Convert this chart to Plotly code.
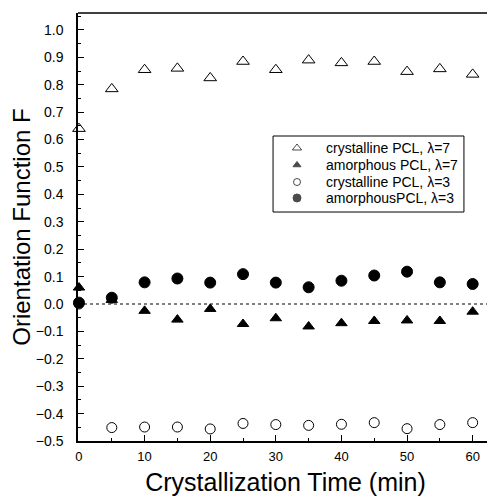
import plotly.graph_objects as go

# crystallization time (min)
time_min = [0, 5, 10, 15, 20, 25, 30, 35, 40, 45, 50, 55, 60]

# orientation function F
cryst_l7 = [0.64, 0.785, 0.855, 0.86, 0.825, 0.885, 0.855, 0.89, 0.88, 0.885, 0.848, 0.858, 0.838]
amorph_l7 = [0.06, 0.015, -0.025, -0.057, -0.018, -0.073, -0.052, -0.082, -0.07, -0.062, -0.06, -0.062, -0.028]
cryst_l3 = [0.0, -0.451, -0.449, -0.449, -0.456, -0.436, -0.44, -0.443, -0.439, -0.433, -0.455, -0.44, -0.433]
amorph_l3 = [0.005, 0.023, 0.079, 0.093, 0.078, 0.109, 0.078, 0.061, 0.085, 0.104, 0.118, 0.079, 0.073]

series_names = ["crystalline PCL, λ=7", "amorphous PCL, λ=7",
                "crystalline PCL, λ=3", "amorphousPCL, λ=3"]
series_symbols = ["triangle-up-open", "triangle-up", "circle-open", "circle"]

font_family = "Arial, Liberation Sans, sans-serif"

fig = go.Figure()

def add_series(y, idx, size):
    fig.add_trace(go.Scatter(x=time_min, y=y, mode="markers", name=series_names[idx],
                             marker=dict(symbol=series_symbols[idx], size=size, color="black",
                                         line=dict(width=1, color="black")),
                             cliponaxis=False, showlegend=False))

add_series(cryst_l3, 2, 10)
add_series(amorph_l7, 1, 10)
add_series(amorph_l3, 3, 11)
add_series(cryst_l7, 0, 11)

# hand-made legend box (paper-like overlay axes so rows can sit close together)
leg_x0, leg_x1, leg_y0, leg_y1 = 0.470, 0.930, 0.535, 0.7126
leg_rows = [0.6846, 0.6449, 0.6051, 0.5678]
leg_sym_x = 0.5277
leg_txt_x = 0.5928

fig.add_trace(go.Scatter(x=[leg_sym_x] * 4, y=leg_rows, mode="markers",
                         marker=dict(symbol=series_symbols, size=[8, 7, 7, 8], color="black",
                                     line=dict(width=1, color="black")),
                         xaxis="x2", yaxis="y2", showlegend=False, hoverinfo="skip"))
fig.add_shape(type="rect", xref="paper", yref="paper",
              x0=leg_x0, x1=leg_x1, y0=leg_y0, y1=leg_y1,
              line=dict(color="black", width=1), fillcolor="white", layer="below")
for name, yy in zip(series_names, leg_rows):
    fig.add_annotation(text=name, xref="paper", yref="paper", x=leg_txt_x, y=yy,
                       xanchor="left", yanchor="middle", showarrow=False,
                       font=dict(family=font_family, size=14, color="black"))

# dotted zero line
fig.add_shape(type="line", xref="paper", yref="y", x0=0, x1=1, y0=0, y1=0,
              line=dict(color="black", width=1, dash="dot"), layer="below")
# top frame line
fig.add_shape(type="line", xref="paper", yref="paper", x0=0, x1=1, y0=1, y1=1,
              line=dict(color="black", width=1.5))

fig.update_layout(
    xaxis=dict(
        range=[-0.15, 63.1], showgrid=False, zeroline=False, automargin=False,
        showline=True, linecolor="black", linewidth=1.5,
        ticks="inside", ticklen=6, tickcolor="black", tickwidth=1,
        tick0=0, dtick=10, ticklabelstandoff=3,
        minor=dict(ticks="inside", ticklen=3, dtick=5, tickcolor="black"),
        tickfont=dict(family=font_family, size=13, color="black"),
        title=dict(text="Crystallization Time (min)", standoff=14,
                   font=dict(family=font_family, size=25, color="black")),
    ),
    yaxis=dict(
        range=[-0.5, 1.062], showgrid=False, zeroline=False, automargin=False,
        showline=True, linecolor="black", linewidth=1.5,
        ticks="inside", ticklen=6, tickcolor="black", tickwidth=1,
        tick0=0, dtick=0.1, tickformat=".1f", ticklabelstandoff=10,
        minor=dict(ticks="inside", ticklen=3, dtick=0.05, tickcolor="black"),
        tickfont=dict(family=font_family, size=14, color="black"),
        title=dict(text="Orientation Function F", standoff=4,
                   font=dict(family=font_family, size=24, color="black")),
    ),
    xaxis2=dict(range=[0, 1], overlaying="x", visible=False, fixedrange=True),
    yaxis2=dict(range=[0, 1], overlaying="y", visible=False, fixedrange=True),
)

# the page adds an 8px body margin, so the figure is 8px smaller and shifted
fig.update_layout(
    width=487, height=488,
    margin=dict(l=70, r=2, t=5, b=55),
    paper_bgcolor="white", plot_bgcolor="white",
    font=dict(family=font_family, color="black"),
    showlegend=False,
)

fig.write_html("out.html")
